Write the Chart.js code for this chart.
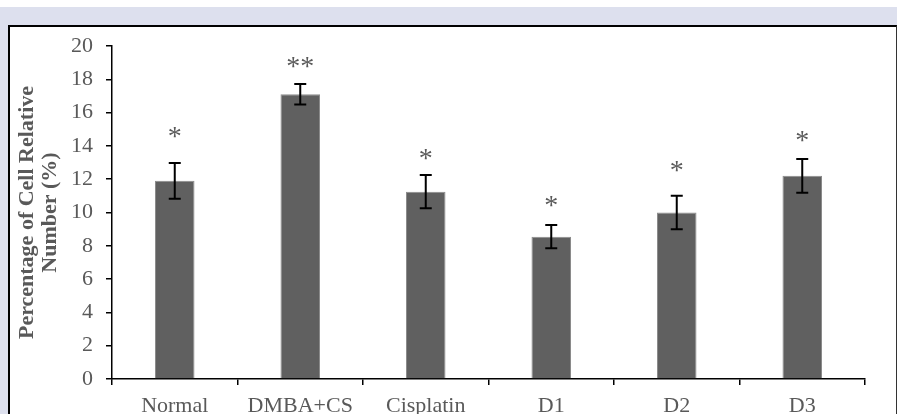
<!DOCTYPE html>
<html>
<head>
<meta charset="utf-8">
<script src="https://cdn.jsdelivr.net/npm/chart.js@4"></script>
<style>
  body { margin: 0; background: #fff; }
  .band { position: absolute; left: 0; top: 7px; width: 897px; height: 407px; background: #dde0ee; }
  .box { position: absolute; left: 8px; top: 25px; width: 889px; height: 400px; box-sizing: border-box;
         background: #fff; border-left: 2px solid #000; border-top: 2px solid #000; border-right: 1px solid #333; }
  #cellChart { position: absolute; left: 0; top: 0; }
</style>
</head>
<body>
<div class="band"></div>
<div class="box"></div>
<canvas id="cellChart" width="897" height="414"></canvas>
<script>
const categories = ['Normal', 'DMBA+CS', 'Cisplatin', 'D1', 'D2', 'D3'];
const means = [11.9, 17.1, 11.25, 8.55, 10.0, 12.2];
const errors = [1.08, 0.62, 1.0, 0.7, 1.0, 1.02];
const marks = ['*', '**', '*', '*', '*', '*'];
const markAt = [14.8, 19.0, 13.5, 10.65, 12.75, 14.6];
const yTitle = ['Percentage of Cell Relative', 'Number (%)'];

const grey = '#595959';
const serif = 'Liberation Serif';
const starSize = 28;

// error bars, stars and the y title
const extras = {
    id: 'extras',
    afterDatasetsDraw(chart) {
        const c = chart.ctx;
        const y = chart.scales.y;
        const bars = chart.getDatasetMeta(0).data;
        c.save();
        c.strokeStyle = '#000';
        c.lineWidth = 2;
        bars.forEach((bar, i) => {
            const x = bar.x;
            const top = y.getPixelForValue(means[i] + errors[i]);
            const bot = y.getPixelForValue(means[i] - errors[i]);
            c.beginPath();
            c.moveTo(x, top); c.lineTo(x, bot);
            c.moveTo(x - 6, top); c.lineTo(x + 6, top);
            c.moveTo(x - 6, bot); c.lineTo(x + 6, bot);
            c.stroke();
        });
        c.fillStyle = grey;
        c.font = starSize + 'px "' + serif + '"';
        c.textAlign = 'center';
        c.textBaseline = 'middle';
        bars.forEach((bar, i) => {
            // the glyph sits high in its em box, push it down a bit
            c.fillText(marks[i], bar.x, y.getPixelForValue(markAt[i]) + starSize * 0.19);
        });
        const mid = (chart.chartArea.top + chart.chartArea.bottom) / 2;
        c.font = 'bold 22px "' + serif + '"';
        yTitle.forEach((line, k) => {
            c.save();
            c.translate(27 + k * 23, mid);
            c.rotate(-Math.PI / 2);
            c.fillText(line, 0, 0);
            c.restore();
        });
        c.restore();
    }
};

new Chart(document.getElementById('cellChart').getContext('2d'), {
    type: 'bar',
    data: {
        labels: categories,
        datasets: [{
            data: means,
            backgroundColor: '#606060',
            borderColor: '#8c8c8c',
            borderWidth: 1,
            categoryPercentage: 1,
            barPercentage: 0.315
        }]
    },
    options: {
        responsive: false,
        animation: false,
        devicePixelRatio: 1,
        layout: { padding: { left: 0, right: 32, top: 46, bottom: 0 } },
        plugins: { legend: { display: false }, tooltip: { enabled: false } },
        scales: {
            x: {
                offset: true,
                grid: { offset: true, drawOnChartArea: false, tickLength: 6, color: '#000', lineWidth: 1.5 },
                border: { color: '#000', width: 1.5 },
                ticks: { color: grey, font: { family: serif, size: 22 }, padding: 8, maxRotation: 0 },
                afterFit: s => { s.height = 35; }
            },
            y: {
                min: 0,
                max: 20,
                ticks: { stepSize: 2, color: grey, font: { family: serif, size: 22 }, padding: 13 },
                grid: { drawOnChartArea: false, tickLength: 6, color: '#000', lineWidth: 1.5 },
                border: { color: '#000', width: 1.5 },
                afterFit: s => { s.width = 112; }
            }
        }
    },
    plugins: [extras]
});
</script>
</body>
</html>
